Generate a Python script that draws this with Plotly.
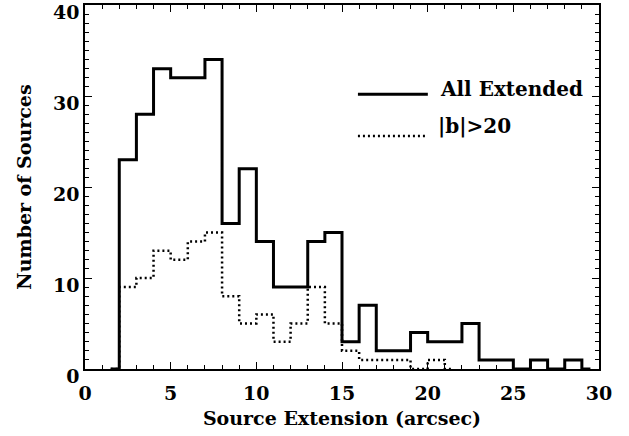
import plotly.graph_objects as go

# bin centres (1-arcsec bins)
centers_all = [1.5 + i for i in range(29)]
counts_all = [0, 23, 28, 33, 32, 32, 34, 16, 22, 14, 9, 9, 14, 15, 3, 7,
              2, 2, 4, 3, 3, 5, 1, 1, 0, 1, 0, 1, 0]
centers_hb = [1.5 + i for i in range(21)]
counts_hb = [0, 9, 10, 13, 12, 14, 15, 8, 5, 6, 3, 5, 9, 5, 2, 1, 1, 1, 0, 1, 0]

x_ticks = [0, 5, 10, 15, 20, 25, 30]
y_ticks = [0, 10, 20, 30, 40]
legend_labels = ["All Extended", "|b|>20"]

FONT = dict(family="DejaVu Serif", size=19, color="black", weight="bold")
LFONT = dict(family="DejaVu Serif", size=20, color="black", weight="bold")

fig = go.Figure()
fig.add_trace(go.Scatter(x=centers_all, y=counts_all, mode="lines",
                         line=dict(shape="hvh", color="black", width=3),
                         showlegend=False, hoverinfo="skip"))
fig.add_trace(go.Scatter(x=centers_hb, y=counts_hb, mode="lines",
                         line=dict(shape="hvh", color="black", width=2.5, dash="2px,3px"),
                         showlegend=False, hoverinfo="skip"))

axis_common = dict(showline=True, linecolor="black", linewidth=1.5, mirror="allticks",
                   ticks="inside", ticklen=7, tickwidth=1.2, tickcolor="black",
                   showgrid=False, zeroline=False, tickfont=FONT, automargin=False)
fig.update_xaxes(range=[0, 30], tickvals=x_ticks, ticktext=[str(v) for v in x_ticks],
                 minor=dict(dtick=1, ticks="inside", ticklen=4, tickcolor="black", tickwidth=1),
                 title=dict(text="Source Extension (arcsec)", font=FONT, standoff=9),
                 ticklabelstandoff=6,
                 **axis_common)
fig.update_yaxes(range=[0, 40], tickvals=y_ticks, ticktext=[str(v) for v in y_ticks],
                 minor=dict(dtick=1, ticks="inside", ticklen=4, tickcolor="black", tickwidth=1),
                 title=dict(text="Number of Sources", font=FONT, standoff=16),
                 ticklabelshift=7,
                 **axis_common)

# legend drawn as lines + text in paper coordinates
fig.add_shape(type="line", xref="paper", yref="paper", x0=0.531, x1=0.667, y0=0.755, y1=0.755,
              line=dict(color="black", width=3))
fig.add_shape(type="line", xref="paper", yref="paper", x0=0.531, x1=0.662, y0=0.640, y1=0.640,
              line=dict(color="black", width=2.5, dash="2px,3px"))
fig.add_annotation(xref="paper", yref="paper", x=0.686, y=0.769, xanchor="left", yanchor="middle",
                   text=legend_labels[0], showarrow=False, font=LFONT)
fig.add_annotation(xref="paper", yref="paper", x=0.683, y=0.668, xanchor="left", yanchor="middle",
                   text=legend_labels[1], showarrow=False, font=LFONT)

fig.update_layout(width=629, height=436, margin=dict(l=85, r=30, t=5, b=67),
                  paper_bgcolor="white", plot_bgcolor="white", font=FONT)
fig.write_html("out.html", config={"displayModeBar": False},
               post_script="document.body.style.margin='0';")
